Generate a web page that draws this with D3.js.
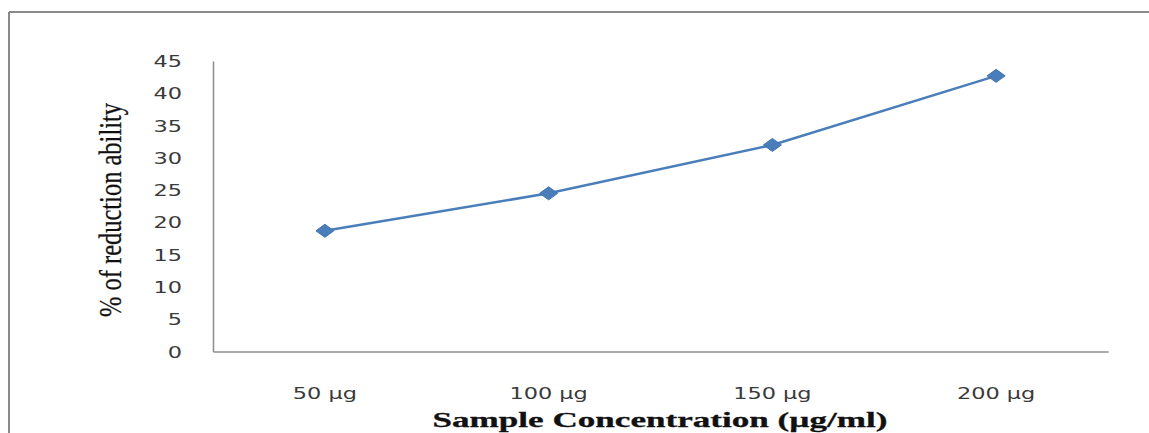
<!DOCTYPE html>
<html><head><meta charset="utf-8">
<script src="https://cdn.jsdelivr.net/npm/d3@7"></script>
<style>html,body{margin:0;padding:0;background:#fff;}svg{display:block;}</style>
</head><body>
<script>
const categories = ["50 µg", "100 µg", "150 µg", "200 µg"];
const values = [18.7, 24.5, 32.0, 42.7];
const yTicks = [0, 5, 10, 15, 20, 25, 30, 35, 40, 45];
const xTitle = "Sample Concentration (µg/ml)";
const yTitle = "% of reduction ability";

const W = 1149, H = 433;
const svg = d3.select("body").append("svg").attr("width", W).attr("height", H);

// outer frame (top and left edges visible)
svg.append("line").attr("x1", 9).attr("x2", W).attr("y1", 12).attr("y2", 12).attr("stroke", "#8a8a8a").attr("stroke-width", 2);
svg.append("line").attr("x1", 9).attr("x2", 9).attr("y1", 12).attr("y2", H).attr("stroke", "#8a8a8a").attr("stroke-width", 2);

const m = {left: 213, right: 1108, top: 61, bottom: 351.5};
const x = d3.scaleBand().domain(categories).range([m.left, m.right]);
const y = d3.scaleLinear().domain([0, 45]).range([m.bottom, m.top]);

// axes
const yAxis = svg.append("g").attr("transform", `translate(${m.left},0)`)
  .call(d3.axisLeft(y).tickValues(yTicks).tickSize(0).tickPadding(31));
const xAxis = svg.append("g").attr("transform", `translate(0,${m.bottom})`)
  .call(d3.axisBottom(x).tickSize(0).tickPadding(36));
[yAxis, xAxis].forEach(g => {
  g.select(".domain").attr("stroke", "#8c8c8c").attr("stroke-width", 1.5);
  g.selectAll("text").attr("font-family", "DejaVu Sans, Verdana, sans-serif")
    .attr("font-size", 16).attr("fill", "#3a3a3a")
    .each(function() {
      const len = this.getComputedTextLength();
      d3.select(this).attr("textLength", len * 1.4).attr("lengthAdjust", "spacingAndGlyphs");
    });
});
yAxis.selectAll("text").attr("dy", "0.35em");

// line
const line = d3.line().x((d, i) => x(categories[i]) + x.bandwidth() / 2).y(d => y(d));
svg.append("path").datum(values).attr("d", line).attr("fill", "none")
  .attr("stroke", "#4a7ebb").attr("stroke-width", 2.5);

// diamond markers
svg.selectAll(".pt").data(values).enter().append("path")
  .attr("class", "pt")
  .attr("transform", (d, i) => `translate(${x(categories[i]) + x.bandwidth() / 2},${y(d)})`)
  .attr("d", "M-9,0L0,-6.5L9,0L0,6.5Z")
  .attr("fill", "#4a7ebb").attr("stroke", "#3f72b0").attr("stroke-width", 1);

// axis titles
svg.append("text").attr("x", 660).attr("y", 427).attr("text-anchor", "middle")
  .attr("font-family", "Liberation Serif, Times New Roman, serif").attr("font-weight", "bold")
  .attr("font-size", 21).attr("fill", "#111").attr("stroke", "#111").attr("stroke-width", 0.3)
  .attr("textLength", 455).attr("lengthAdjust", "spacingAndGlyphs")
  .text(xTitle);

svg.append("text").attr("transform", "translate(121,210) rotate(-90)").attr("text-anchor", "middle")
  .attr("font-family", "Liberation Serif, Times New Roman, serif")
  .attr("font-size", 32).attr("fill", "#111").attr("stroke", "#111").attr("stroke-width", 0.3)
  .attr("textLength", 214).attr("lengthAdjust", "spacingAndGlyphs")
  .text(yTitle);
</script>
</body></html>
